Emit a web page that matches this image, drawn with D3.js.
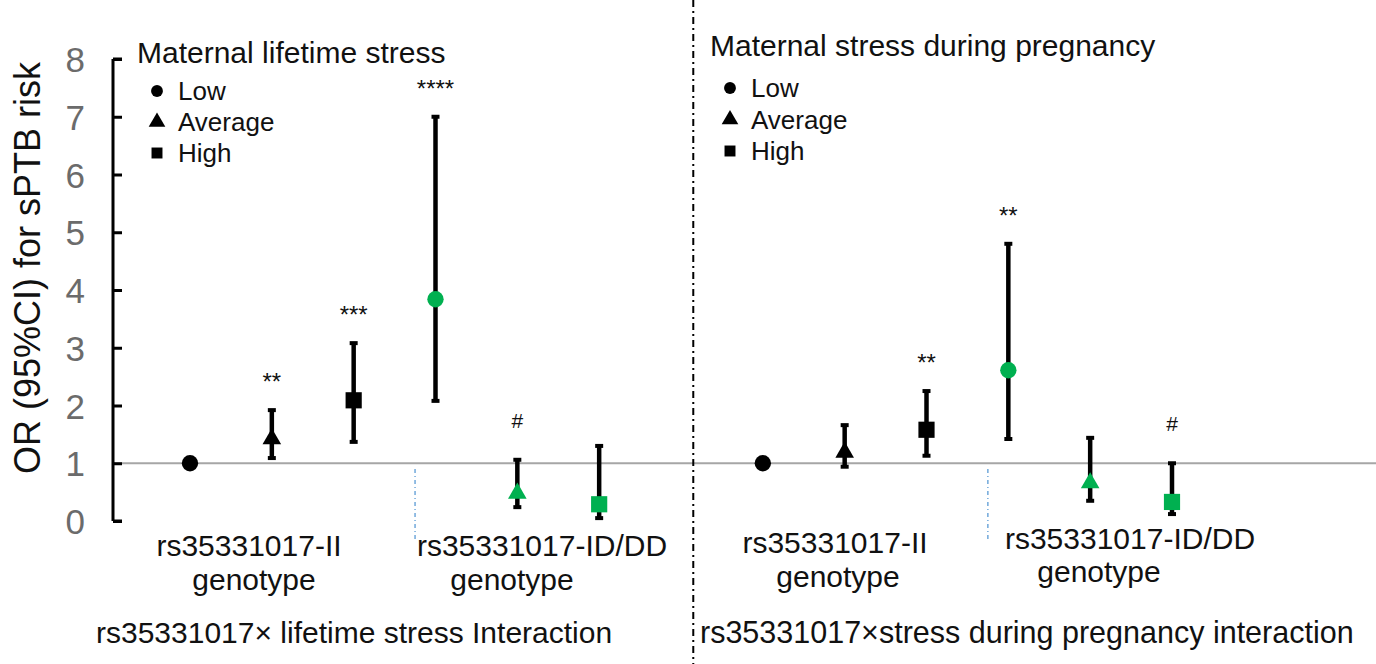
<!DOCTYPE html>
<html>
<head>
<meta charset="utf-8">
<script src="https://cdn.jsdelivr.net/npm/d3@7"></script>
<style>
  body { margin: 0; background: #fff; }
  svg text { font-family: "Liberation Sans", Arial, sans-serif; }
</style>
</head>
<body>
<div id="OR_graph"></div>
<script>
// stress levels, same order in both panels
var levels = ["Low", "Average", "High", "Low", "Average", "High"];
var genotypes = ["II", "II", "II", "IDDD", "IDDD", "IDDD"];

// maternal lifetime stress
var lifetimeOR = [1.00, 1.42, 2.09, 3.84, 0.48, 0.29];
var lifetimeLo = [null, 1.09, 1.37, 2.08, 0.24, 0.05];
var lifetimeHi = [null, 1.92, 3.08, 7.00, 1.06, 1.30];
var lifetimeSig = ["", "**", "***", "****", "#", ""];

// maternal stress during pregnancy
var pregnancyOR = [1.00, 1.19, 1.58, 2.61, 0.66, 0.33];
var pregnancyLo = [null, 0.94, 1.13, 1.42, 0.35, 0.12];
var pregnancyHi = [null, 1.66, 2.25, 4.80, 1.44, 1.00];
var pregnancySig = ["", "", "**", "**", "", "#"];

var yTicks = [0, 1, 2, 3, 4, 5, 6, 7, 8];
var legendLabels = ["Low", "Average", "High"];
var legendTitles = ["Maternal lifetime stress", "Maternal stress during pregnancy"];
var genotypeLabels = [["rs35331017-II", "genotype"], ["rs35331017-ID/DD", "genotype"]];
var interactionLabels = ["rs35331017\u00d7 lifetime stress Interaction", "rs35331017\u00d7stress during pregnancy interaction"];

var width = 1376, height = 664;
var green = "#00b050";

// slot index -> x (left panel 0..5, right panel 7..12)
var x = d3.scaleLinear().domain([0, 12]).range([190, 1172]);
var y = d3.scaleLinear().domain([0, 8]).range([521, 59]);

var shapes = { Low: d3.symbolCircle, Average: d3.symbolTriangle, High: d3.symbolSquare };
var sizes = { Low: 210, Average: 150, High: 262 };

function rows(or, lo, hi, sig, offset) {
    return or.map(function(v, i) {
        return { slot: i + offset, or: v, lo: lo[i], hi: hi[i], sig: sig[i], level: levels[i], geno: genotypes[i] };
    });
}
var data_OR = rows(lifetimeOR, lifetimeLo, lifetimeHi, lifetimeSig, 0)
    .concat(rows(pregnancyOR, pregnancyLo, pregnancyHi, pregnancySig, 7));

var svg = d3.select("#OR_graph")
    .append("svg")
    .attr("width", width)
    .attr("height", height);

// reference line at OR = 1
svg.append("line")
    .attr("x1", 113).attr("x2", width)
    .attr("y1", y(1)).attr("y2", y(1))
    .style("stroke", "#a6a6a6")
    .style("stroke-width", 2);

// panel separator
svg.append("line")
    .attr("x1", x(6.15)).attr("x2", x(6.15))
    .attr("y1", 0).attr("y2", height)
    .style("stroke", "#000")
    .style("stroke-width", 2)
    .style("stroke-dasharray", "7,4,2,4");

// genotype dividers (blue dotted)
[2.75, 9.75].forEach(function(s) {
    svg.append("line")
        .attr("x1", x(s)).attr("x2", x(s))
        .attr("y1", 469).attr("y2", 542)
        .style("stroke", "#5b9bd5")
        .style("stroke-width", 1.3)
        .style("stroke-dasharray", "4,3,1,3");
});

// Add the Y Axis
var yAxis = d3.axisLeft(y).tickValues(yTicks).tickSize(-9).tickPadding(28);
var yg = svg.append("g")
    .attr("class", "y axis")
    .attr("transform", "translate(113,0)")
    .call(yAxis);
yg.select(".domain")
    .attr("d", "M0," + y(8) + "V" + y(0) + "M0," + y(8) + "h9M0," + y(0) + "h9")
    .style("stroke", "#000").style("stroke-width", 3).style("fill", "none");
yg.selectAll(".tick line").style("stroke", "#000").style("stroke-width", 3);
yg.selectAll(".tick text")
    .style("font-size", "35px")
    .style("fill", "#6b6b6b")
    .attr("dy", "0.36em");

svg.append("text")
    .attr("transform", "translate(40," + 268 + ") rotate(-90)")
    .attr("text-anchor", "middle")
    .style("font-size", "36px")
    .style("fill", "#111")
    .text("OR (95%CI) for sPTB risk");

// error bars
var bars = data_OR.filter(function(d) { return d.lo != null; });
svg.selectAll(".ci")
    .data(bars).enter()
    .append("line")
    .attr("class", "ci")
    .attr("x1", function(d) { return x(d.slot); })
    .attr("x2", function(d) { return x(d.slot); })
    .attr("y1", function(d) { return y(d.lo); })
    .attr("y2", function(d) { return y(d.hi); })
    .style("stroke", "#000")
    .style("stroke-width", 4.5);

svg.selectAll(".cap")
    .data(bars.flatMap(function(d) { return [{ slot: d.slot, v: d.lo }, { slot: d.slot, v: d.hi }]; }))
    .enter()
    .append("line")
    .attr("class", "cap")
    .attr("x1", function(d) { return x(d.slot) - 4; })
    .attr("x2", function(d) { return x(d.slot) + 4; })
    .attr("y1", function(d) { return y(d.v); })
    .attr("y2", function(d) { return y(d.v); })
    .style("stroke", "#000")
    .style("stroke-width", 4);

// points
svg.selectAll(".pt")
    .data(data_OR).enter()
    .append("path")
    .attr("class", "pt")
    .attr("transform", function(d) { return "translate(" + x(d.slot) + "," + y(d.or) + ")"; })
    .attr("d", function(d) { return d3.symbol().type(shapes[d.level]).size(sizes[d.level])(); })
    .style("fill", function(d) { return d.geno == "II" ? "#000" : green; });

// significance marks
svg.selectAll(".sig")
    .data(data_OR.filter(function(d) { return d.sig != ""; })).enter()
    .append("text")
    .attr("class", "sig")
    .attr("x", function(d) { return x(d.slot); })
    .attr("y", function(d) { return y(d.hi) - (d.sig == "#" ? 32 : 20); })
    .attr("text-anchor", "middle")
    .style("font-size", function(d) { return d.sig == "#" ? "21px" : "24px"; })
    .style("fill", "#111")
    .text(function(d) { return d.sig; });

// legends
var legendPos = [{ tx: 137, ty: 63, mx: 157, lx: 178, y0: 91, dy: 31 },
                 { tx: 710, ty: 56, mx: 730, lx: 751, y0: 88, dy: 31.5 }];
legendTitles.forEach(function(t, k) {
    var p = legendPos[k];
    svg.append("text")
        .attr("x", p.tx).attr("y", p.ty)
        .style("font-size", "30px").style("fill", "#111")
        .text(t);
    legendLabels.forEach(function(l, i) {
        svg.append("path")
            .attr("transform", "translate(" + p.mx + "," + (p.y0 + i * p.dy) + ")")
            .attr("d", d3.symbol().type(shapes[l]).size(l == "Low" ? 110 : 120)())
            .style("fill", "#000");
        svg.append("text")
            .attr("x", p.lx).attr("y", p.y0 + i * p.dy + 9)
            .style("font-size", "26px").style("fill", "#111")
            .text(l);
    });
});

// genotype labels under each group
var genoPos = [[249, 254, 556, 590], [542, 512, 556, 590], [835, 838, 553, 587], [1130, 1099, 549, 582]];
genoPos.forEach(function(p, k) {
    var lab = genotypeLabels[k % 2];
    svg.append("text").attr("x", p[0]).attr("y", p[2])
        .attr("text-anchor", "middle").style("font-size", "30px").style("fill", "#111")
        .text(lab[0]);
    svg.append("text").attr("x", p[1]).attr("y", p[3])
        .attr("text-anchor", "middle").style("font-size", "30px").style("fill", "#111")
        .text(lab[1]);
});

// interaction titles
svg.append("text").attr("x", 96).attr("y", 643)
    .style("font-size", "30px").style("fill", "#111")
    .text(interactionLabels[0]);
svg.append("text").attr("x", 700).attr("y", 643)
    .style("font-size", "30.5px").style("fill", "#111")
    .text(interactionLabels[1]);
</script>
</body>
</html>
